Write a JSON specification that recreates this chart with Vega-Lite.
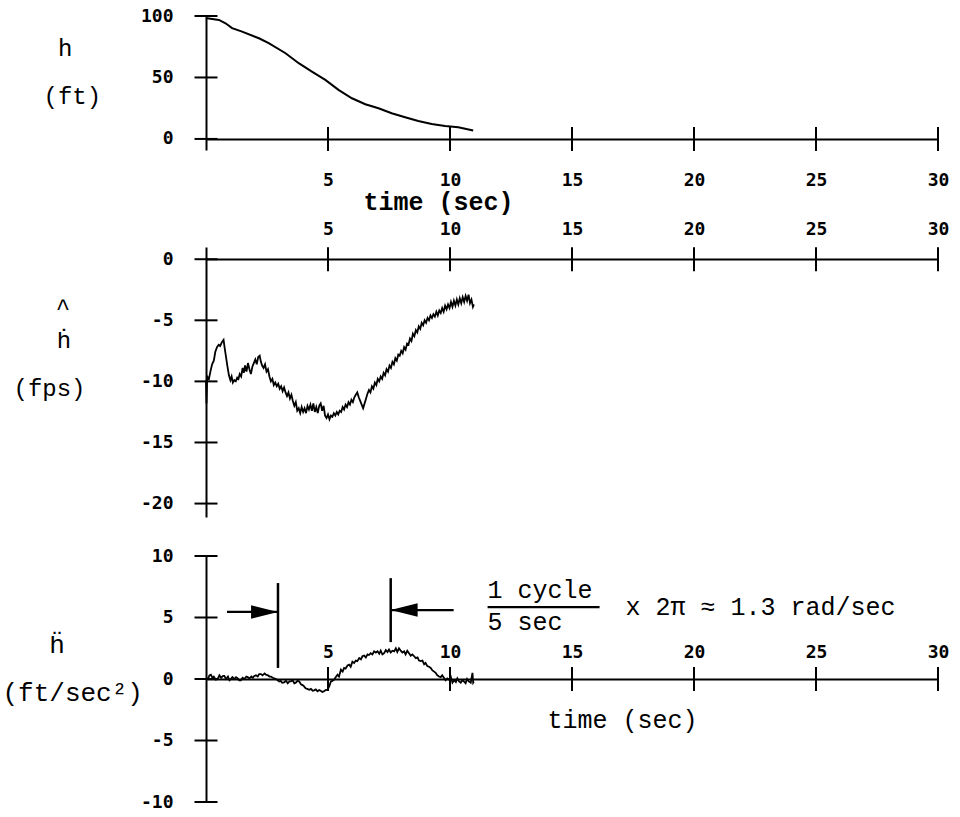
{
  "$schema": "https://vega.github.io/schema/vega-lite/v6.json",
  "background": "white",
  "padding": {"left": 2, "top": 7, "right": 5, "bottom": 5},
  "bounds": "flush",
  "spacing": 97,
  "config": {"view": {"stroke": null}, "font": "Liberation Mono"},
  "datasets": {
    "h": [
      {"t": 0, "v": 98.4}, {"t": 0.05, "v": 98.2}, {"t": 0.53, "v": 96.8}, {"t": 0.8, "v": 94.1}, {"t": 1.07, "v": 90.1},
      {"t": 1.48, "v": 87.3}, {"t": 2.17, "v": 81.9}, {"t": 2.57, "v": 77.9}, {"t": 3.26, "v": 69.7}, {"t": 3.8, "v": 61.6},
      {"t": 4.34, "v": 54.8}, {"t": 4.89, "v": 48.0}, {"t": 5.43, "v": 39.9}, {"t": 5.98, "v": 33.1}, {"t": 6.53, "v": 28.2},
      {"t": 7.07, "v": 25.0}, {"t": 7.61, "v": 20.9}, {"t": 8.16, "v": 17.7}, {"t": 8.7, "v": 14.6}, {"t": 9.25, "v": 12.2},
      {"t": 9.8, "v": 10.6}, {"t": 10.34, "v": 9.5}, {"t": 10.95, "v": 6.8}
    ],
    "hd": [
      {"t": 0.0, "v": -9.9}, {"t": 0.02, "v": -11.8}, {"t": 0.05, "v": -9.6}, {"t": 0.12, "v": -9.8}, {"t": 0.18, "v": -9.2},
      {"t": 0.25, "v": -8.6}, {"t": 0.32, "v": -8.3}, {"t": 0.38, "v": -7.6}, {"t": 0.45, "v": -7.2}, {"t": 0.52, "v": -7.0},
      {"t": 0.58, "v": -7.1}, {"t": 0.65, "v": -6.8}, {"t": 0.72, "v": -6.6}, {"t": 0.76, "v": -7.2}, {"t": 0.82, "v": -8.0},
      {"t": 0.88, "v": -8.8}, {"t": 0.94, "v": -9.5}, {"t": 1.0, "v": -9.9}, {"t": 1.05, "v": -9.6}, {"t": 1.1, "v": -10.1},
      {"t": 1.16, "v": -9.9}, {"t": 1.22, "v": -10.0}, {"t": 1.28, "v": -9.7}, {"t": 1.33, "v": -9.8}, {"t": 1.38, "v": -9.4},
      {"t": 1.44, "v": -9.6}, {"t": 1.5, "v": -8.9}, {"t": 1.55, "v": -9.3}, {"t": 1.6, "v": -8.7}, {"t": 1.66, "v": -9.2},
      {"t": 1.72, "v": -8.5}, {"t": 1.78, "v": -9.0}, {"t": 1.84, "v": -9.4}, {"t": 1.9, "v": -8.8}, {"t": 1.96, "v": -8.5},
      {"t": 2.02, "v": -8.2}, {"t": 2.08, "v": -8.6}, {"t": 2.14, "v": -8.0}, {"t": 2.2, "v": -7.9}, {"t": 2.25, "v": -8.4},
      {"t": 2.3, "v": -8.7}, {"t": 2.36, "v": -8.9}, {"t": 2.42, "v": -8.6}, {"t": 2.48, "v": -9.2}, {"t": 2.54, "v": -9.0},
      {"t": 2.6, "v": -9.6}, {"t": 2.66, "v": -10.0}, {"t": 2.72, "v": -9.8}, {"t": 2.78, "v": -10.3}, {"t": 2.84, "v": -10.1},
      {"t": 2.9, "v": -10.4}, {"t": 2.96, "v": -10.2}, {"t": 3.02, "v": -10.6}, {"t": 3.08, "v": -10.4}, {"t": 3.14, "v": -10.8},
      {"t": 3.2, "v": -10.5}, {"t": 3.26, "v": -10.9}, {"t": 3.32, "v": -11.2}, {"t": 3.38, "v": -10.9}, {"t": 3.44, "v": -11.4},
      {"t": 3.5, "v": -11.1}, {"t": 3.56, "v": -11.6}, {"t": 3.62, "v": -12.0}, {"t": 3.68, "v": -11.7}, {"t": 3.74, "v": -12.4},
      {"t": 3.8, "v": -12.2}, {"t": 3.86, "v": -12.6}, {"t": 3.92, "v": -12.1}, {"t": 3.98, "v": -12.5}, {"t": 4.04, "v": -12.2},
      {"t": 4.1, "v": -12.6}, {"t": 4.16, "v": -12.0}, {"t": 4.22, "v": -12.3}, {"t": 4.28, "v": -11.9}, {"t": 4.34, "v": -12.4},
      {"t": 4.4, "v": -11.8}, {"t": 4.46, "v": -12.5}, {"t": 4.52, "v": -12.1}, {"t": 4.58, "v": -12.6}, {"t": 4.64, "v": -12.0},
      {"t": 4.7, "v": -11.8}, {"t": 4.76, "v": -12.4}, {"t": 4.82, "v": -12.0}, {"t": 4.88, "v": -12.8}, {"t": 4.94, "v": -13.0},
      {"t": 5.0, "v": -12.7}, {"t": 5.06, "v": -13.1}, {"t": 5.12, "v": -12.8}, {"t": 5.18, "v": -12.9}, {"t": 5.24, "v": -12.6},
      {"t": 5.3, "v": -12.8}, {"t": 5.36, "v": -12.5}, {"t": 5.42, "v": -12.7}, {"t": 5.48, "v": -12.4}, {"t": 5.54, "v": -12.5},
      {"t": 5.6, "v": -12.1}, {"t": 5.66, "v": -12.3}, {"t": 5.72, "v": -11.9}, {"t": 5.78, "v": -12.1}, {"t": 5.84, "v": -11.7},
      {"t": 5.9, "v": -11.9}, {"t": 5.96, "v": -11.5}, {"t": 6.02, "v": -11.7}, {"t": 6.08, "v": -11.3}, {"t": 6.14, "v": -11.1},
      {"t": 6.2, "v": -10.9}, {"t": 6.26, "v": -11.3}, {"t": 6.32, "v": -11.6}, {"t": 6.38, "v": -11.9}, {"t": 6.44, "v": -12.2},
      {"t": 6.5, "v": -11.8}, {"t": 6.56, "v": -11.4}, {"t": 6.62, "v": -11.0}, {"t": 6.68, "v": -10.7}, {"t": 6.74, "v": -10.9},
      {"t": 6.8, "v": -10.4}, {"t": 6.86, "v": -10.6}, {"t": 6.92, "v": -10.1}, {"t": 6.98, "v": -10.3}, {"t": 7.04, "v": -9.8},
      {"t": 7.1, "v": -10.0}, {"t": 7.16, "v": -9.6}, {"t": 7.22, "v": -9.8}, {"t": 7.28, "v": -9.3}, {"t": 7.34, "v": -9.5},
      {"t": 7.4, "v": -9.0}, {"t": 7.46, "v": -9.2}, {"t": 7.52, "v": -8.7}, {"t": 7.58, "v": -8.9}, {"t": 7.64, "v": -8.4},
      {"t": 7.7, "v": -8.6}, {"t": 7.76, "v": -8.1}, {"t": 7.82, "v": -8.3}, {"t": 7.88, "v": -7.8}, {"t": 7.94, "v": -7.9},
      {"t": 8.0, "v": -7.5}, {"t": 8.06, "v": -7.7}, {"t": 8.12, "v": -7.2}, {"t": 8.18, "v": -7.4}, {"t": 8.24, "v": -6.9},
      {"t": 8.3, "v": -7.0}, {"t": 8.36, "v": -6.5}, {"t": 8.42, "v": -6.7}, {"t": 8.48, "v": -6.1}, {"t": 8.54, "v": -6.3},
      {"t": 8.6, "v": -5.8}, {"t": 8.66, "v": -6.0}, {"t": 8.72, "v": -5.5}, {"t": 8.78, "v": -5.7}, {"t": 8.84, "v": -5.2},
      {"t": 8.9, "v": -5.4}, {"t": 8.96, "v": -5.0}, {"t": 9.02, "v": -5.2}, {"t": 9.08, "v": -4.8}, {"t": 9.14, "v": -5.0},
      {"t": 9.2, "v": -4.6}, {"t": 9.26, "v": -4.8}, {"t": 9.32, "v": -4.5}, {"t": 9.38, "v": -4.7}, {"t": 9.44, "v": -4.3},
      {"t": 9.5, "v": -4.6}, {"t": 9.56, "v": -4.2}, {"t": 9.62, "v": -4.4}, {"t": 9.68, "v": -4.0}, {"t": 9.74, "v": -4.3},
      {"t": 9.8, "v": -3.8}, {"t": 9.86, "v": -4.1}, {"t": 9.92, "v": -3.7}, {"t": 9.98, "v": -4.0}, {"t": 10.04, "v": -3.5},
      {"t": 10.1, "v": -3.9}, {"t": 10.16, "v": -3.4}, {"t": 10.22, "v": -3.8}, {"t": 10.28, "v": -3.3}, {"t": 10.34, "v": -3.7},
      {"t": 10.4, "v": -3.2}, {"t": 10.46, "v": -3.6}, {"t": 10.52, "v": -3.1}, {"t": 10.58, "v": -3.5}, {"t": 10.64, "v": -3.0},
      {"t": 10.7, "v": -3.4}, {"t": 10.76, "v": -2.9}, {"t": 10.82, "v": -3.6}, {"t": 10.88, "v": -3.3}, {"t": 10.94, "v": -3.9},
      {"t": 10.98, "v": -3.7}
    ],
    "hdd": [
      {"t": 0.0, "v": 0.1}, {"t": 0.08, "v": 0.0}, {"t": 0.14, "v": 0.3}, {"t": 0.2, "v": 0.35}, {"t": 0.26, "v": 0.1},
      {"t": 0.32, "v": 0.2}, {"t": 0.4, "v": -0.05}, {"t": 0.48, "v": 0.0}, {"t": 0.55, "v": 0.3}, {"t": 0.62, "v": 0.1},
      {"t": 0.7, "v": 0.25}, {"t": 0.75, "v": 0.25}, {"t": 0.82, "v": 0.0}, {"t": 0.9, "v": 0.2}, {"t": 0.96, "v": -0.1},
      {"t": 1.02, "v": 0.0}, {"t": 1.08, "v": 0.15}, {"t": 1.16, "v": 0.0}, {"t": 1.23, "v": 0.15}, {"t": 1.3, "v": 0.05},
      {"t": 1.36, "v": -0.1}, {"t": 1.43, "v": -0.1}, {"t": 1.5, "v": 0.1}, {"t": 1.58, "v": 0.0}, {"t": 1.65, "v": 0.2},
      {"t": 1.71, "v": 0.15}, {"t": 1.78, "v": 0.05}, {"t": 1.86, "v": 0.2}, {"t": 1.92, "v": 0.1}, {"t": 1.98, "v": 0.25},
      {"t": 2.05, "v": 0.3}, {"t": 2.12, "v": 0.2}, {"t": 2.18, "v": 0.4}, {"t": 2.25, "v": 0.4}, {"t": 2.32, "v": 0.3},
      {"t": 2.4, "v": 0.45}, {"t": 2.46, "v": 0.35}, {"t": 2.54, "v": 0.3}, {"t": 2.6, "v": 0.2}, {"t": 2.66, "v": 0.2},
      {"t": 2.74, "v": 0.1}, {"t": 2.8, "v": 0.05}, {"t": 2.87, "v": 0.0}, {"t": 2.94, "v": -0.1}, {"t": 3.0, "v": -0.2},
      {"t": 3.06, "v": -0.15}, {"t": 3.12, "v": -0.3}, {"t": 3.2, "v": -0.27}, {"t": 3.28, "v": -0.15}, {"t": 3.35, "v": -0.35},
      {"t": 3.42, "v": -0.2}, {"t": 3.48, "v": -0.2}, {"t": 3.55, "v": -0.1}, {"t": 3.62, "v": -0.35}, {"t": 3.68, "v": -0.3},
      {"t": 3.75, "v": -0.15}, {"t": 3.82, "v": -0.2}, {"t": 3.9, "v": -0.45}, {"t": 3.96, "v": -0.5}, {"t": 4.02, "v": -0.6},
      {"t": 4.08, "v": -0.75}, {"t": 4.15, "v": -0.8}, {"t": 4.23, "v": -0.87}, {"t": 4.3, "v": -0.8}, {"t": 4.37, "v": -0.95},
      {"t": 4.43, "v": -0.92}, {"t": 4.5, "v": -0.85}, {"t": 4.57, "v": -1.0}, {"t": 4.64, "v": -0.9}, {"t": 4.7, "v": -0.95},
      {"t": 4.77, "v": -1.05}, {"t": 4.84, "v": -1.0}, {"t": 4.9, "v": -0.9}, {"t": 4.98, "v": -0.87}, {"t": 5.05, "v": -0.6},
      {"t": 5.12, "v": -0.2}, {"t": 5.18, "v": -0.15}, {"t": 5.25, "v": -0.05}, {"t": 5.3, "v": 0.1}, {"t": 5.39, "v": 0.35},
      {"t": 5.45, "v": 0.2}, {"t": 5.53, "v": 0.76}, {"t": 5.6, "v": 0.6}, {"t": 5.66, "v": 0.9}, {"t": 5.72, "v": 0.85},
      {"t": 5.8, "v": 1.1}, {"t": 5.87, "v": 1.17}, {"t": 5.93, "v": 1.0}, {"t": 6.0, "v": 1.4}, {"t": 6.07, "v": 1.3},
      {"t": 6.14, "v": 1.5}, {"t": 6.2, "v": 1.45}, {"t": 6.28, "v": 1.7}, {"t": 6.35, "v": 1.6}, {"t": 6.41, "v": 1.85},
      {"t": 6.48, "v": 1.9}, {"t": 6.55, "v": 1.75}, {"t": 6.62, "v": 2.0}, {"t": 6.68, "v": 1.95}, {"t": 6.75, "v": 2.1},
      {"t": 6.82, "v": 2.0}, {"t": 6.89, "v": 2.25}, {"t": 6.96, "v": 2.15}, {"t": 7.03, "v": 2.25}, {"t": 7.1, "v": 2.05},
      {"t": 7.16, "v": 2.3}, {"t": 7.23, "v": 2.0}, {"t": 7.3, "v": 2.1}, {"t": 7.37, "v": 2.35}, {"t": 7.44, "v": 2.2},
      {"t": 7.5, "v": 2.4}, {"t": 7.57, "v": 2.15}, {"t": 7.64, "v": 2.3}, {"t": 7.71, "v": 2.25}, {"t": 7.78, "v": 2.5},
      {"t": 7.84, "v": 2.2}, {"t": 7.91, "v": 2.5}, {"t": 7.98, "v": 2.3}, {"t": 8.05, "v": 2.15}, {"t": 8.12, "v": 2.25},
      {"t": 8.18, "v": 2.0}, {"t": 8.25, "v": 2.3}, {"t": 8.32, "v": 2.1}, {"t": 8.39, "v": 1.9}, {"t": 8.46, "v": 2.0},
      {"t": 8.53, "v": 1.85}, {"t": 8.6, "v": 1.7}, {"t": 8.67, "v": 1.75}, {"t": 8.73, "v": 1.5}, {"t": 8.8, "v": 1.45},
      {"t": 8.87, "v": 1.5}, {"t": 8.94, "v": 1.2}, {"t": 9.0, "v": 1.3}, {"t": 9.07, "v": 1.05}, {"t": 9.14, "v": 1.0},
      {"t": 9.21, "v": 0.9}, {"t": 9.28, "v": 0.7}, {"t": 9.35, "v": 0.6}, {"t": 9.41, "v": 0.5}, {"t": 9.48, "v": 0.3},
      {"t": 9.55, "v": 0.2}, {"t": 9.62, "v": 0.15}, {"t": 9.68, "v": 0.3}, {"t": 9.75, "v": 0.1}, {"t": 9.82, "v": -0.1},
      {"t": 9.89, "v": 0.05}, {"t": 9.96, "v": -0.05}, {"t": 10.03, "v": 0.2}, {"t": 10.1, "v": -0.3}, {"t": 10.17, "v": -0.1},
      {"t": 10.24, "v": -0.25}, {"t": 10.3, "v": 0.05}, {"t": 10.37, "v": -0.2}, {"t": 10.44, "v": -0.3}, {"t": 10.5, "v": -0.1},
      {"t": 10.57, "v": -0.2}, {"t": 10.64, "v": -0.35}, {"t": 10.7, "v": 0.0}, {"t": 10.77, "v": -0.2}, {"t": 10.85, "v": -0.3},
      {"t": 10.92, "v": 0.5}, {"t": 10.95, "v": -0.3}, {"t": 10.98, "v": -0.2}
    ],
    "xticks": [{"t": 5}, {"t": 10}, {"t": 15}, {"t": 20}, {"t": 25}, {"t": 30}]
  },
  "vconcat": [
    {
      "width": 732,
      "height": 134,
      "layer": [
        {
          "data": {"name": "h"},
          "mark": {"type": "line", "color": "black", "strokeWidth": 2},
          "encoding": {
            "x": {"field": "t", "type": "quantitative",
              "scale": {"domain": [0, 30], "nice": false, "zero": false},
              "axis": {"orient": "bottom", "offset": -11, "values": [5, 10, 15, 20, 25, 30], "ticks": false, "tickSize": 0,
                "domainWidth": 2, "domainColor": "black", "labelFont": "DejaVu Sans Mono", "labelFontSize": 18, "labelFontWeight": "bold",
                "labelColor": "black", "labelPadding": 32, "labelFlush": false, "labelOverlap": false, "grid": false,
                "title": "time (sec)", "titleFont": "Liberation Mono", "titleFontSize": 25, "titleFontWeight": "bold", "titleColor": "black",
                "titleX": 232, "titleY": 70, "titleAlign": "center", "titleBaseline": "alphabetic"}},
            "y": {"field": "v", "type": "quantitative",
              "scale": {"domain": [-9, 100], "nice": false, "zero": false},
              "axis": {"values": [0, 50, 100], "ticks": false, "tickSize": 0, "domainWidth": 2, "domainColor": "black",
                "labelFont": "DejaVu Sans Mono", "labelFontSize": 18, "labelFontWeight": "bold", "labelColor": "black", "labelPadding": 33,
                "labelOverlap": false, "labelFlush": false, "grid": false,
                "title": ["\u200b\u00a0h", "(ft)"], "titleFont": "Liberation Mono", "titleFontSize": 24, "titleFontWeight": "normal",
                "titleColor": "black", "titleAngle": 0, "titleAlign": "left", "titleBaseline": "alphabetic", "titleX": -163, "titleY": 39,
                "titleLineHeight": 48}}
          }
        },
        {
          "data": {"name": "xticks"},
          "mark": {"type": "tick", "orient": "vertical", "size": 24, "thickness": 2, "color": "black", "opacity": 1},
          "encoding": {"x": {"field": "t", "type": "quantitative"}, "y": {"datum": 0}}
        },
        {
          "data": {"values": [{"v": 0}, {"v": 50}, {"v": 100}]},
          "mark": {"type": "tick", "orient": "horizontal", "size": 23, "thickness": 2, "color": "black", "opacity": 1},
          "encoding": {"x": {"datum": 0}, "y": {"field": "v", "type": "quantitative"}}
        }
      ]
    },
    {
      "bounds": "flush",
      "spacing": 39,
      "vconcat": [
        {
          "width": 732,
          "height": 270,
          "layer": [
            {
              "data": {"name": "hd"},
              "mark": {"type": "line", "color": "black", "strokeWidth": 1.8},
              "encoding": {
                "x": {"field": "t", "type": "quantitative",
                  "scale": {"domain": [0, 30], "nice": false, "zero": false},
                  "axis": {"orient": "top", "offset": -12, "values": [5, 10, 15, 20, 25, 30], "ticks": false, "tickSize": 0,
                    "domainWidth": 2, "domainColor": "black", "labelFont": "DejaVu Sans Mono", "labelFontSize": 18, "labelFontWeight": "bold",
                    "labelColor": "black", "labelPadding": 21, "labelFlush": false, "labelOverlap": false, "grid": false, "title": null}},
                "y": {"field": "v", "type": "quantitative",
                  "scale": {"domain": [-21.1, 1], "nice": false, "zero": false},
                  "axis": {"values": [0, -5, -10, -15, -20], "ticks": false, "tickSize": 0, "domainWidth": 2, "domainColor": "black",
                    "labelFont": "DejaVu Sans Mono", "labelFontSize": 18, "labelFontWeight": "bold", "labelColor": "black", "labelPadding": 33,
                    "labelOverlap": false, "labelFlush": false, "grid": false,
                    "labelExpr": "datum.value < 0 ? '-' + abs(datum.value) : '' + datum.value",
                    "title": ["\u200b\u00a0\u00a0\u00a0ḣ", "(fps)"], "titleFont": "Liberation Mono", "titleFontSize": 24,
                    "titleFontWeight": "normal", "titleColor": "black", "titleAngle": 0, "titleAlign": "left", "titleBaseline": "alphabetic",
                    "titleX": -193, "titleY": 100, "titleLineHeight": 48}}
              }
            },
            {
              "data": {"values": [{"t": -5.86, "v": -4.6, "label": "^"}]},
              "mark": {"type": "text", "font": "Liberation Mono", "fontSize": 24, "align": "center", "baseline": "alphabetic", "color": "black"},
              "encoding": {"x": {"field": "t", "type": "quantitative"}, "y": {"field": "v", "type": "quantitative"}, "text": {"field": "label"}}
            },
            {
              "data": {"name": "xticks"},
              "mark": {"type": "tick", "orient": "vertical", "size": 24, "thickness": 2, "color": "black", "opacity": 1},
              "encoding": {"x": {"field": "t", "type": "quantitative"}, "y": {"datum": 0}}
            },
            {
              "data": {"values": [{"v": 0}, {"v": -5}, {"v": -10}, {"v": -15}, {"v": -20}]},
              "mark": {"type": "tick", "orient": "horizontal", "size": 23, "thickness": 2, "color": "black", "opacity": 1},
              "encoding": {"x": {"datum": 0}, "y": {"field": "v", "type": "quantitative"}}
            }
          ]
        },
        {
          "width": 732,
          "height": 246,
          "layer": [
            {
              "data": {"name": "hdd"},
              "mark": {"type": "line", "color": "black", "strokeWidth": 1.8},
              "encoding": {
                "x": {"field": "t", "type": "quantitative",
                  "scale": {"domain": [0, 30], "nice": false, "zero": false},
                  "axis": {"orient": "top", "offset": -123, "values": [5, 10, 15, 20, 25, 30], "ticks": false, "tickSize": 0,
                    "domainWidth": 2, "domainColor": "black", "labelFont": "DejaVu Sans Mono", "labelFontSize": 18, "labelFontWeight": "bold",
                    "labelColor": "black", "labelPadding": 18, "labelFlush": false, "labelOverlap": false, "grid": false, "title": null}},
                "y": {"field": "v", "type": "quantitative",
                  "scale": {"domain": [-10, 10], "nice": false, "zero": false},
                  "axis": {"values": [10, 5, 0, -5, -10], "ticks": false, "tickSize": 0, "domainWidth": 2, "domainColor": "black",
                    "labelFont": "DejaVu Sans Mono", "labelFontSize": 18, "labelFontWeight": "bold", "labelColor": "black", "labelPadding": 33,
                    "labelOverlap": false, "labelFlush": false, "grid": false,
                    "labelExpr": "datum.value < 0 ? '-' + abs(datum.value) : '' + datum.value",
                    "title": ["\u200b\u00a0\u00a0\u00a0ḧ", "(ft/sec²)"], "titleFont": "Liberation Mono", "titleFontSize": 26,
                    "titleFontWeight": "normal", "titleColor": "black", "titleAngle": 0, "titleAlign": "left", "titleBaseline": "alphabetic",
                    "titleX": -204, "titleY": 96, "titleLineHeight": 48}}
              }
            },
            {
              "data": {"name": "xticks"},
              "mark": {"type": "tick", "orient": "vertical", "size": 24, "thickness": 2, "color": "black", "opacity": 1},
              "encoding": {"x": {"field": "t", "type": "quantitative"}, "y": {"datum": 0}}
            },
            {
              "data": {"values": [{"v": 10}, {"v": 5}, {"v": 0}, {"v": -5}, {"v": -10}]},
              "mark": {"type": "tick", "orient": "horizontal", "size": 23, "thickness": 2, "color": "black", "opacity": 1},
              "encoding": {"x": {"datum": 0}, "y": {"field": "v", "type": "quantitative"}}
            },
            {
              "data": {"values": [{"t": 2.95, "v": 0.9, "v2": 7.8}, {"t": 7.57, "v": 3.0, "v2": 8.2}]},
              "mark": {"type": "rule", "color": "black", "strokeWidth": 2.5},
              "encoding": {"x": {"field": "t", "type": "quantitative"}, "y": {"field": "v", "type": "quantitative"}, "y2": {"field": "v2"}}
            },
            {
              "data": {"values": [{"t": 0.86, "t2": 2.95, "v": 5.45}, {"t": 7.57, "t2": 10.15, "v": 5.6}, {"t": 11.54, "t2": 16.13, "v": 5.85}]},
              "mark": {"type": "rule", "color": "black", "strokeWidth": 2.2},
              "encoding": {"x": {"field": "t", "type": "quantitative"}, "x2": {"field": "t2"}, "y": {"field": "v", "type": "quantitative"}}
            },
            {
              "data": {"values": [{"t": 2.4, "v": 5.45, "dir": "right"}, {"t": 8.12, "v": 5.6, "dir": "left"}]},
              "mark": {"type": "point", "filled": true, "color": "black", "opacity": 1, "size": 729},
              "encoding": {
                "x": {"field": "t", "type": "quantitative"},
                "y": {"field": "v", "type": "quantitative"},
                "shape": {"field": "dir", "type": "nominal", "legend": null,
                  "scale": {"domain": ["right", "left"], "range": ["M-1,-0.5L1,0L-1,0.5Z", "M1,-0.5L-1,0L1,0.5Z"]}}
              }
            },
            {
              "data": {"values": [
                {"t": 11.54, "v": 7.2, "label": "1 cycle"},
                {"t": 11.54, "v": 4.6, "label": "5 sec"},
                {"t": 17.19, "v": 5.85, "label": "x 2π ≈ 1.3 rad/sec"},
                {"t": 14.0, "v": -3.33, "label": "time (sec)"}
              ]},
              "mark": {"type": "text", "font": "Liberation Mono", "fontSize": 25, "align": "left", "baseline": "middle", "color": "black"},
              "encoding": {"x": {"field": "t", "type": "quantitative"}, "y": {"field": "v", "type": "quantitative"}, "text": {"field": "label"}}
            }
          ]
        }
      ]
    }
  ]
}
